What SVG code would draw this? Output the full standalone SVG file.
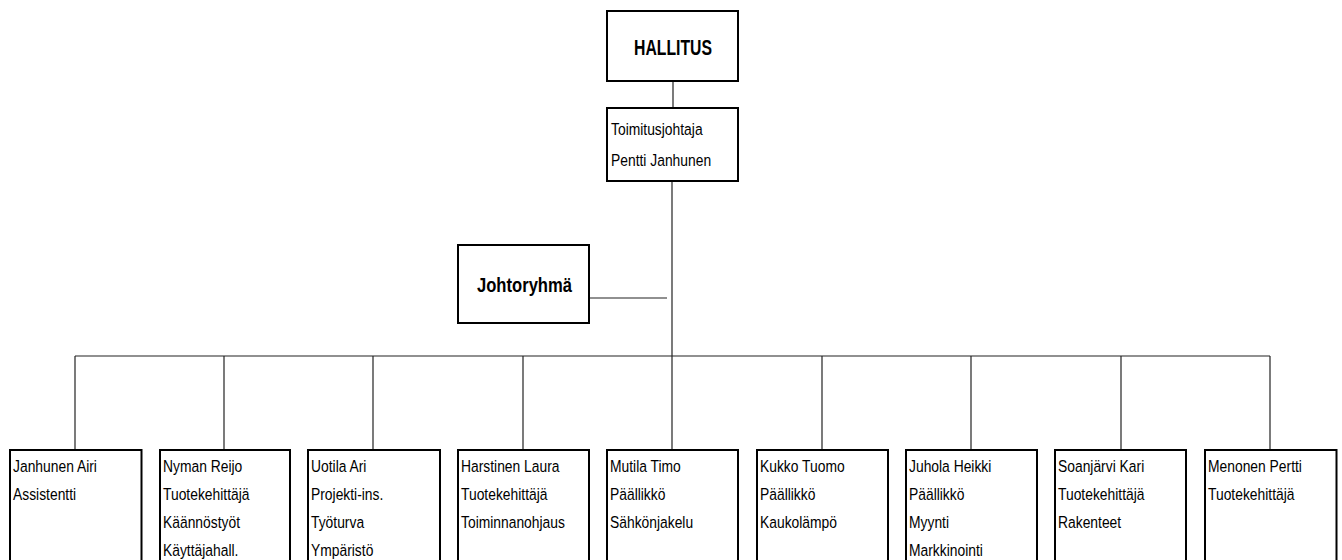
<svg xmlns="http://www.w3.org/2000/svg" width="1342" height="560" viewBox="0 0 1342 560">
<style>
.box{fill:#fff;stroke:#000;stroke-width:2}
.conn line{stroke:#222;stroke-width:1.2}
.t{font-family:"Liberation Sans",Arial,sans-serif;font-size:17px;fill:#000}
.b{font-family:"Liberation Sans",Arial,sans-serif;font-weight:bold;fill:#000}
</style>
<rect width="1342" height="560" fill="#fff"/>
<g class="conn" id="connectors">
<line x1="673" y1="81" x2="673" y2="108"/>
<line x1="672" y1="181" x2="672" y2="356"/>
<line x1="585" y1="298" x2="667" y2="298"/>
<line x1="75" y1="356" x2="1270" y2="356"/>
<line x1="75" y1="356" x2="75" y2="449"/>
<line x1="224" y1="356" x2="224" y2="449"/>
<line x1="373" y1="356" x2="373" y2="449"/>
<line x1="523" y1="356" x2="523" y2="449"/>
<line x1="672" y1="356" x2="672" y2="449"/>
<line x1="822" y1="356" x2="822" y2="449"/>
<line x1="971" y1="356" x2="971" y2="449"/>
<line x1="1121" y1="356" x2="1121" y2="449"/>
<line x1="1270" y1="356" x2="1270" y2="449"/>
</g>
<g id="hallitus">
<rect class="box" x="607" y="11" width="131" height="70"/>
<text class="b" x="634" y="55" font-size="22" textLength="78" lengthAdjust="spacingAndGlyphs">HALLITUS</text>
</g>
<g id="toimitusjohtaja">
<rect class="box" x="607" y="108" width="131" height="73"/>
<text class="t" transform="translate(611,134.5) scale(0.815,1)"><tspan x="0" y="0">Toimitusjohtaja</tspan><tspan x="0" y="32">Pentti Janhunen</tspan></text>
</g>
<g id="johtoryhma">
<rect class="box" x="458" y="245" width="131" height="78"/>
<text class="b" x="477" y="291.5" font-size="21" textLength="95" lengthAdjust="spacingAndGlyphs">Johtoryhmä</text>
</g>
<g id="janhunen">
<rect class="box" x="10" y="450" width="131.5" height="130"/>
<text class="t" transform="translate(13,472) scale(0.815,1)"><tspan x="0" y="0">Janhunen Airi</tspan><tspan x="0" y="28">Assistentti</tspan></text>
</g>
<g id="nyman">
<rect class="box" x="160" y="450" width="130" height="130"/>
<text class="t" transform="translate(163,472) scale(0.815,1)"><tspan x="0" y="0">Nyman Reijo</tspan><tspan x="0" y="28">Tuotekehittäjä</tspan><tspan x="0" y="56">Käännöstyöt</tspan><tspan x="0" y="84">Käyttäjahall.</tspan></text>
</g>
<g id="uotila">
<rect class="box" x="308" y="450" width="132" height="130"/>
<text class="t" transform="translate(311,472) scale(0.815,1)"><tspan x="0" y="0">Uotila Ari</tspan><tspan x="0" y="28">Projekti-ins.</tspan><tspan x="0" y="56">Työturva</tspan><tspan x="0" y="84">Ympäristö</tspan></text>
</g>
<g id="harstinen">
<rect class="box" x="458" y="450" width="131" height="130"/>
<text class="t" transform="translate(461,472) scale(0.815,1)"><tspan x="0" y="0">Harstinen Laura</tspan><tspan x="0" y="28">Tuotekehittäjä</tspan><tspan x="0" y="56">Toiminnanohjaus</tspan></text>
</g>
<g id="mutila">
<rect class="box" x="607" y="450" width="131" height="130"/>
<text class="t" transform="translate(610,472) scale(0.815,1)"><tspan x="0" y="0">Mutila Timo</tspan><tspan x="0" y="28">Päällikkö</tspan><tspan x="0" y="56">Sähkönjakelu</tspan></text>
</g>
<g id="kukko">
<rect class="box" x="757" y="450" width="131" height="130"/>
<text class="t" transform="translate(760,472) scale(0.815,1)"><tspan x="0" y="0">Kukko Tuomo</tspan><tspan x="0" y="28">Päällikkö</tspan><tspan x="0" y="56">Kaukolämpö</tspan></text>
</g>
<g id="juhola">
<rect class="box" x="906" y="450" width="131" height="130"/>
<text class="t" transform="translate(909,472) scale(0.815,1)"><tspan x="0" y="0">Juhola Heikki</tspan><tspan x="0" y="28">Päällikkö</tspan><tspan x="0" y="56">Myynti</tspan><tspan x="0" y="84">Markkinointi</tspan></text>
</g>
<g id="soanjarvi">
<rect class="box" x="1055" y="450" width="131" height="130"/>
<text class="t" transform="translate(1058,472) scale(0.815,1)"><tspan x="0" y="0">Soanjärvi Kari</tspan><tspan x="0" y="28">Tuotekehittäjä</tspan><tspan x="0" y="56">Rakenteet</tspan></text>
</g>
<g id="menonen">
<rect class="box" x="1205" y="450" width="131.5" height="130"/>
<text class="t" transform="translate(1208,472) scale(0.815,1)"><tspan x="0" y="0">Menonen Pertti</tspan><tspan x="0" y="28">Tuotekehittäjä</tspan></text>
</g>
</svg>
